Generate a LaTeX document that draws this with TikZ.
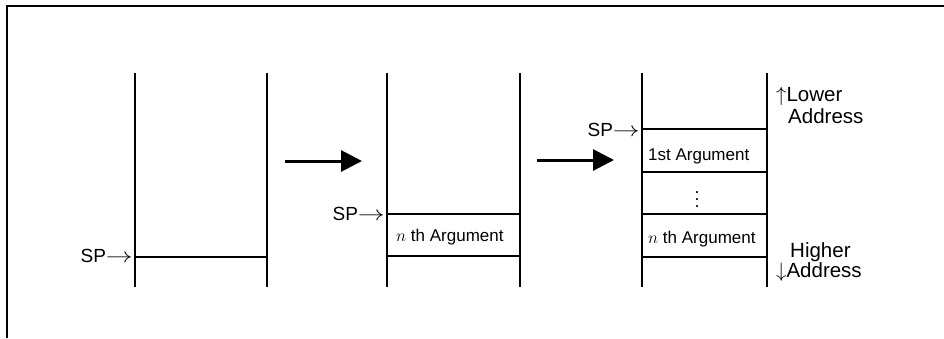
\documentclass[tikz,border=0pt]{standalone}
\usepackage{fontspec}
\usepackage{graphicx}
\setmainfont{Liberation Sans}
\usetikzlibrary{arrows.meta,positioning}

\newcommand{\sparrow}{\scalebox{1.3}[1]{$\rightarrow$}}

\tikzset{
  wall/.style={black,line width=1.5bp},
  slot/.style={black,line width=1.3bp},
  splabel/.style={inner sep=0pt,anchor=base east,font=\fontsize{19bp}{22bp}\selectfont},
  addrlabel/.style={inner sep=0pt,anchor=base west,font=\fontsize{20.5bp}{23bp}\selectfont},
  arglabel/.style={inner sep=0pt,anchor=base west,font=\fontsize{17bp}{20bp}\selectfont},
  pushto/.style={line width=3bp,-{Triangle[length=21bp,width=21bp]}},
}

\begin{document}
\begin{tikzpicture}[x=1bp,y=-1bp]
\useasboundingbox (0,0) rectangle (944,338);
\draw [line width=1.6bp] (7,338) -- (7,6) -- (944,6);
% first stack
\draw [wall] (135,73) -- (135,287);
\draw [wall] (267,73) -- (267,287);
\draw [slot] (135,257) -- (267,257);
\node [splabel] (spa) at (133,262) {SP\sparrow};
% second stack
\draw [wall] (387,73) -- (387,287);
\draw [wall] (520,73) -- (520,287);
\draw [slot] (387,214) -- (520,214);
\draw [slot] (387,256) -- (520,256);
\node [splabel] (spb) at (385,220) {SP\sparrow};
\node [arglabel] (argbn) at (396,241) {$n$ th Argument};
% third stack
\draw [wall] (642,73) -- (642,287);
\draw [wall] (767,73) -- (767,287);
\draw [slot] (642,129) -- (767,129);
\draw [slot] (642,172) -- (767,172);
\draw [slot] (642,214) -- (767,214);
\draw [slot] (642,257) -- (767,257);
\node [splabel] (spc) at (640,136) {SP\sparrow};
\node [arglabel] (argc1) at (648,160) {1st Argument};
\node [inner sep=0pt,anchor=south] (dots) at (697,208) {\scalebox{1.8}{$\vdots$}};
\node [arglabel] (argcn) at (648,243) {$n$ th Argument};
% address direction
\node [addrlabel] (low1) at (776,101) {$\uparrow$Lower};
\node [addrlabel] (low2) at (788,123) {Address};
\node [addrlabel] (high1) at (790,257) {Higher};
\node [addrlabel] (high2) at (776,277) {$\downarrow$Address};
% push arrows
\coordinate (pa) at (285,161);
\coordinate (pb) at (362,161);
\coordinate (pc) at (537,160);
\coordinate (pd) at (614,160);
\draw [pushto] (pa) -- (pb);
\draw [pushto] (pc) -- (pd);
\end{tikzpicture}
\end{document}
